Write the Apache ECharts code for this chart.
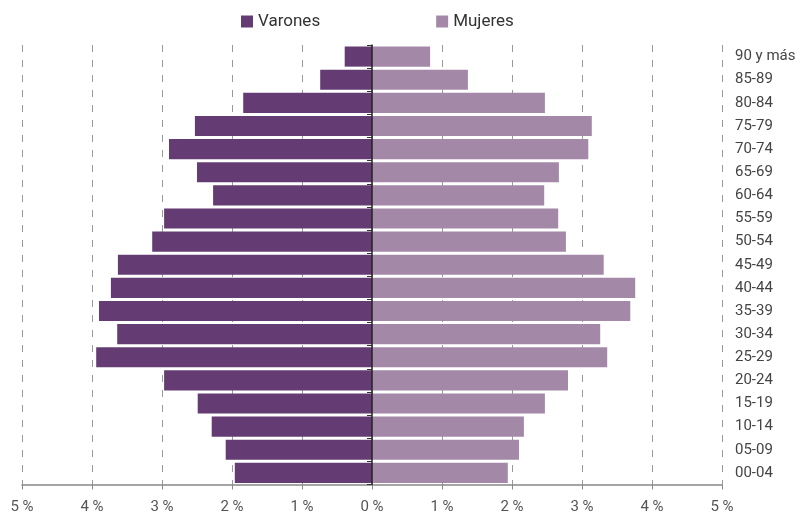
<!DOCTYPE html>
<html>
<head>
<meta charset="utf-8">
<script src="https://cdn.jsdelivr.net/npm/echarts@6/dist/echarts.min.js"></script>
<style>
html,body{margin:0;padding:0;background:#fff;}
#chart{width:801px;height:515px;}
</style>
</head>
<body>
<div id="chart"></div>
<script>
const categories = ['00-04','05-09','10-14','15-19','20-24','25-29','30-34','35-39','40-44','45-49','50-54','55-59','60-64','65-69','70-74','75-79','80-84','85-89','90 y más'];
const varones = [1.96,2.09,2.29,2.49,2.97,3.94,3.64,3.90,3.73,3.63,3.14,2.97,2.27,2.50,2.90,2.53,1.84,0.74,0.39];
const mujeres = [1.94,2.10,2.17,2.47,2.80,3.36,3.26,3.69,3.76,3.31,2.77,2.66,2.46,2.67,3.09,3.14,2.47,1.37,0.83];
const xTicks = [-5,-4,-3,-2,-1,0,1,2,3,4,5];

const FONT = 'Roboto, "Liberation Sans", sans-serif';
const C_V = '#643c73';
const C_M = '#a388a8';

const chart = echarts.init(document.getElementById('chart'));
chart.setOption({
  animation: false,
  backgroundColor: '#fff',
  textStyle: {fontFamily: FONT},
  legend: {
    left: 236, top: 8,
    itemWidth: 12, itemHeight: 12, itemGap: 116,
    icon: 'rect',
    textStyle: {fontFamily: FONT, fontSize: 17, color: '#333', padding: [0,0,0,0]},
    data: ['Varones','Mujeres']
  },
  grid: {left: 22, right: 79, top: 45, bottom: 30.5, containLabel: false},
  xAxis: {
    type: 'value', min: xTicks[0], max: xTicks[xTicks.length-1], interval: 1,
    axisLine: {show: true, lineStyle: {color: '#888', width: 1.5}},
    axisTick: {show: true, length: 5, lineStyle: {color: '#888'}},
    axisLabel: {
      margin: 15, fontSize: 15, color: '#555', fontFamily: FONT,
      formatter: v => Math.abs(v) + ' %'
    },
    splitLine: {show: true, lineStyle: {color: '#999', type: [7,8], width: 1}}
  },
  yAxis: [
    {
      type: 'category', data: categories, position: 'left', z: 10,
      axisLine: {show: true, onZero: true, lineStyle: {color: '#222', width: 1.5}},
      axisTick: {show: true, length: 5, alignWithLabel: false, lineStyle: {color: '#333'}},
      axisLabel: {show: false}
    },
    {
      type: 'category', data: categories, position: 'right', z: 10,
      axisLine: {show: false, onZero: false},
      axisTick: {show: false},
      axisLabel: {show: true, margin: 13, fontSize: 15, color: '#444', fontFamily: FONT}
    }
  ],
  series: [
    {
      name: 'Varones', type: 'bar', stack: 'p', yAxisIndex: 0,
      barCategoryGap: '13%',
      itemStyle: {color: C_V},
      data: varones.map(v => -v)
    },
    {
      name: 'Mujeres', type: 'bar', stack: 'p', yAxisIndex: 0,
      barCategoryGap: '13%',
      itemStyle: {color: C_M},
      data: mujeres
    }
  ]
});
</script>
</body>
</html>
